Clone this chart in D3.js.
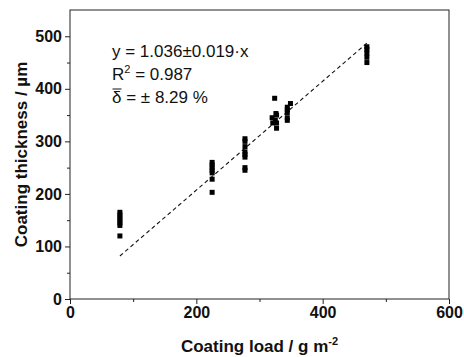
<!DOCTYPE html>
<html>
<head>
<style>
  body { margin: 0; background: #fff; }
  text { font-family: Arial, "Liberation Sans", sans-serif; }
</style>
</head>
<body>
<div id="chart"></div>
<script src="https://cdn.jsdelivr.net/npm/d3@7"></script>
<script>
// measured points: coating load (g/m2) vs thickness (um)
var loadVals  = [79, 79, 79, 79, 79, 79, 79,
                 225, 225, 225, 225, 225, 225, 225,
                 277, 277, 277, 277, 277, 277, 277, 277,
                 320, 321, 324, 326, 327, 327, 327, 325,
                 344, 344, 344, 344, 344, 349,
                 470, 470, 470, 470, 470];
var thickVals = [120, 140, 145, 150, 155, 160, 165,
                 203, 228, 240, 245, 250, 255, 260,
                 245, 250, 270, 275, 280, 290, 300, 305,
                 345, 335, 382, 353, 350, 335, 325, 340,
                 340, 345, 355, 360, 365, 372,
                 450, 460, 468, 475, 480];
var slope = 1.036;
var fitRange = [79, 470];
var xTicks = [0, 200, 400, 600];
var yTicks = [0, 100, 200, 300, 400, 500];

var W = 464, H = 357;
var margin = {top: 10, right: 15, bottom: 58, left: 70};
var width = W - margin.left - margin.right,
    height = H - margin.top - margin.bottom;

var svg = d3.select("#chart").append("svg")
    .attr("width", W).attr("height", H);
var g = svg.append("g")
    .attr("transform", "translate(" + margin.left + "," + margin.top + ")");

var x = d3.scaleLinear().domain([0, 600]).range([0, width]);
var y = d3.scaleLinear().domain([0, 550]).range([height, 0]);

// frame
g.append("rect")
  .attr("width", width).attr("height", height)
  .attr("fill", "none").attr("stroke", "#222").attr("stroke-width", 1);

// minor ticks
g.append("g").attr("transform", "translate(0," + height + ")")
  .call(d3.axisBottom(x).tickValues([100, 300, 500]).tickSize(3).tickFormat(""))
  .call(function(a) { a.select(".domain").remove(); });
g.append("g")
  .call(d3.axisLeft(y).tickValues([50, 150, 250, 350, 450]).tickSize(3).tickFormat(""))
  .call(function(a) { a.select(".domain").remove(); });

var xAxis = g.append("g").attr("transform", "translate(0," + height + ")")
  .call(d3.axisBottom(x).tickValues(xTicks).tickSize(5).tickPadding(3));
var yAxis = g.append("g")
  .call(d3.axisLeft(y).tickValues(yTicks).tickSize(5).tickPadding(3));

[xAxis, yAxis].forEach(function(a) {
  a.select(".domain").remove();
  a.selectAll("text")
    .style("font-family", "Arial, 'Liberation Sans', sans-serif")
    .style("font-size", "16px").style("font-weight", "bold").attr("fill", "#111");
});
g.selectAll(".tick line").attr("stroke", "#222");

// fit line
g.append("line")
  .attr("x1", x(fitRange[0])).attr("y1", y(slope * fitRange[0]))
  .attr("x2", x(fitRange[1])).attr("y2", y(slope * fitRange[1]))
  .attr("stroke", "#111").attr("stroke-width", 1.1)
  .attr("stroke-dasharray", "4,3");

// squares
var s = 5;
g.selectAll("rect.pt")
  .data(loadVals.map(function(d, i) { return [d, thickVals[i]]; }))
  .enter().append("rect").attr("class", "pt")
  .attr("x", function(d) { return x(d[0]) - s / 2; })
  .attr("y", function(d) { return y(d[1]) - s / 2; })
  .attr("width", s).attr("height", s)
  .attr("fill", "#000");

// annotation text
var ann = g.append("g").attr("font-size", "17px").attr("fill", "#111");
ann.append("text").attr("x", 42).attr("y", 47).text("y = 1.036\u00b10.019\u00b7x");
var r2 = ann.append("text").attr("x", 42).attr("y", 70);
r2.append("tspan").text("R");
r2.append("tspan").attr("dy", -7).attr("font-size", "11px").text("2");
r2.append("tspan").attr("dy", 7).text(" = 0.987");
ann.append("text").attr("x", 42).attr("y", 92.5).text("\u03b4 = \u00b1 8.29 %");
ann.append("line").attr("x1", 42.5).attr("x2", 51.5).attr("y1", 79).attr("y2", 79)
  .attr("stroke", "#111").attr("stroke-width", 1);

// axis titles
svg.append("text")
  .attr("x", margin.left + width / 2).attr("y", 352)
  .attr("text-anchor", "middle").attr("font-size", "17px").attr("font-weight", "bold")
  .attr("fill", "#111")
  .call(function(t) {
    t.append("tspan").text("Coating load / g m");
    t.append("tspan").attr("dy", -7).attr("font-size", "11px").text("-2");
  });

svg.append("text")
  .attr("transform", "translate(27," + (margin.top + height / 2) + ") rotate(-90)")
  .attr("text-anchor", "middle").attr("font-size", "17px").attr("font-weight", "bold")
  .attr("fill", "#111")
  .text("Coating thickness / \u00b5m");
</script>
</body>
</html>
